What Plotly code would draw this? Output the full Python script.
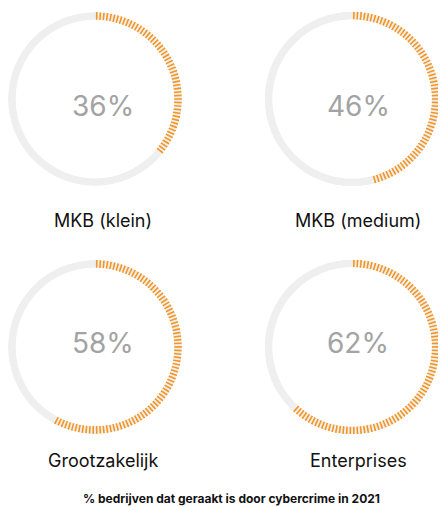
import numpy as np
import plotly.graph_objects as go

labels = ["MKB (klein)", "MKB (medium)", "Grootzakelijk", "Enterprises"]
percents = [36, 46, 58, 62]
footer = "% bedrijven dat geraakt is door cybercrime in 2021"

n_ticks = 150
step = 360 / n_ticks

W, H = 446, 507
domains = [
    ([0.0, 0.39], [0.648, 0.993]),
    ([0.575, 0.968], [0.648, 0.993]),
    ([0.0, 0.39], [0.159, 0.504]),
    ([0.575, 0.968], [0.159, 0.504]),
]
centers = [(95, 98), (350, 98), (95, 335), (350, 335)]
label_y = [213, 213, 452, 452]

fig = go.Figure()
layout = {}
for i, (lab, pct) in enumerate(zip(labels, percents)):
    sub = "polar" if i == 0 else f"polar{i+1}"
    # grey background ring
    fig.add_trace(go.Barpolar(r=[1], theta=[180], width=[360], marker_color="#efefef",
                              marker_line_width=0, subplot=sub, hoverinfo="skip"))
    k = int(round(pct / 100 * n_ticks))
    theta = np.arange(k) * step + step / 2
    fig.add_trace(go.Barpolar(r=np.ones(k), theta=theta, width=np.full(k, step * 0.45),
                              marker_color="#f7941d", marker_line_width=0, subplot=sub))
    dx, dy = domains[i]
    layout[sub] = dict(domain=dict(x=dx, y=dy), hole=0.91, bgcolor="rgba(0,0,0,0)",
                       radialaxis=dict(visible=False, range=[0, 1]),
                       angularaxis=dict(visible=False, rotation=90, direction="clockwise"))
    cx, cy = centers[i]
    fig.add_annotation(x=cx / W, y=1 - cy / H, xref="paper", yref="paper",
                       xanchor="center", yanchor="middle",
                       text=f"{pct}%", showarrow=False,
                       font=dict(size=28, color="#a3a3a3", family="Inter"))
    fig.add_annotation(x=cx / W, y=1 - label_y[i] / H, xref="paper", yref="paper",
                       xanchor="center", yanchor="middle",
                       text=lab, showarrow=False,
                       font=dict(size=18, color="#111111", family="Inter"))

fig.add_annotation(x=0.5, y=1 - 490 / H, xref="paper", yref="paper",
                   xanchor="center", yanchor="middle",
                   text=f"<b>{footer}</b>", showarrow=False,
                   font=dict(size=12, color="#111111", family="Inter"))

fig.update_layout(**layout, width=W, height=H, showlegend=False,
                  margin=dict(l=0, r=0, t=0, b=0), paper_bgcolor="white")
fig.write_html("out.html")
